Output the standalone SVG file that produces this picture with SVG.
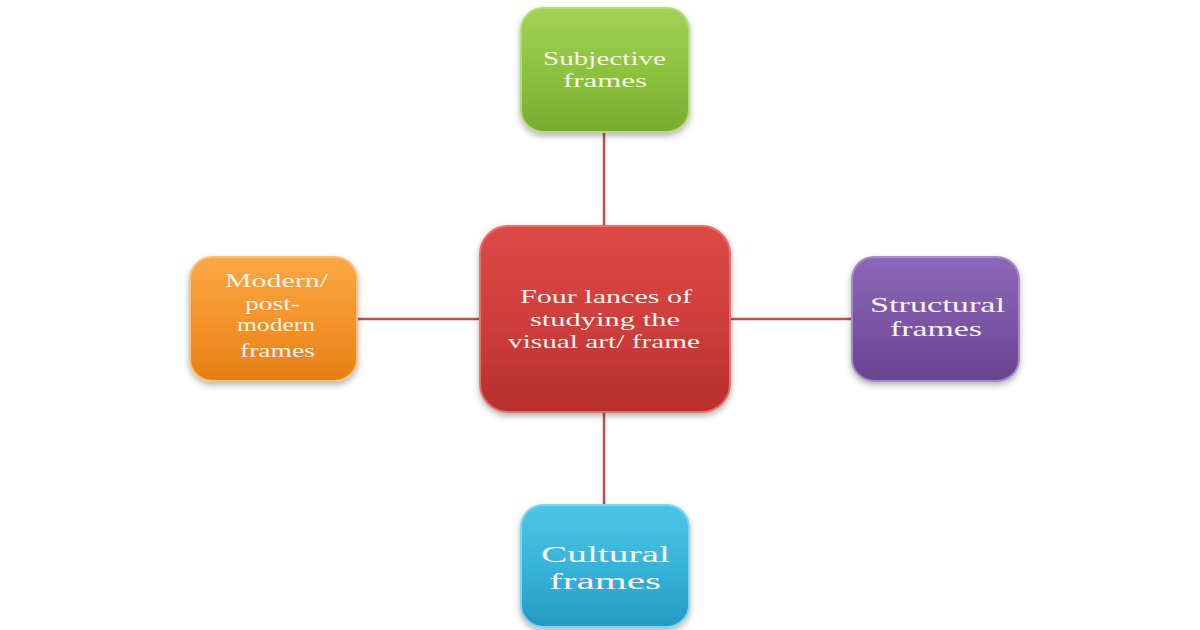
<svg xmlns="http://www.w3.org/2000/svg" width="1200" height="630" viewBox="0 0 1200 630">
<defs>
<linearGradient id="gG" x1="0" y1="0" x2="0" y2="1"><stop offset="0" stop-color="#a3d157"/><stop offset="0.5" stop-color="#8dc23f"/><stop offset="1" stop-color="#79ab2f"/></linearGradient>
<linearGradient id="gR" x1="0" y1="0" x2="0" y2="1"><stop offset="0" stop-color="#dc4a47"/><stop offset="0.5" stop-color="#cf3e3c"/><stop offset="1" stop-color="#b72f2e"/></linearGradient>
<linearGradient id="gO" x1="0" y1="0" x2="0" y2="1"><stop offset="0" stop-color="#f9a847"/><stop offset="0.5" stop-color="#f5942a"/><stop offset="1" stop-color="#e57f14"/></linearGradient>
<linearGradient id="gP" x1="0" y1="0" x2="0" y2="1"><stop offset="0" stop-color="#8c68b6"/><stop offset="0.5" stop-color="#7c56a5"/><stop offset="1" stop-color="#684491"/></linearGradient>
<linearGradient id="gC" x1="0" y1="0" x2="0" y2="1"><stop offset="0" stop-color="#4cc5e6"/><stop offset="0.5" stop-color="#38b4d9"/><stop offset="1" stop-color="#2599c3"/></linearGradient>
<filter id="sh" x="-10%" y="-10%" width="120%" height="130%"><feDropShadow dx="0" dy="3" stdDeviation="3" flood-color="#000" flood-opacity="0.3"/></filter>
</defs>
<style>
.box{filter:url(#sh);stroke-width:2}
.t{font-family:"Liberation Serif","Times New Roman",serif;fill:#f8f4ec;text-anchor:middle}
.c{stroke:#c0504d;stroke-width:2.5;fill:none}
</style>
<g id="connectors">
<line class="c" x1="604" y1="132" x2="604" y2="226"/>
<line class="c" x1="604" y1="412" x2="604" y2="505"/>
<line class="c" x1="357" y1="319" x2="480" y2="319"/>
<line class="c" x1="730" y1="319" x2="852" y2="319"/>
</g>
<g id="subjective">
<rect class="box" x="521" y="8" width="168" height="124" rx="22" fill="url(#gG)" stroke="#b4dc7a"/>
<text class="t" font-size="19.5" x="604.5" y="65" textLength="123" lengthAdjust="spacingAndGlyphs">Subjective</text>
<text class="t" font-size="19.5" x="605" y="87" textLength="84" lengthAdjust="spacingAndGlyphs">frames</text>
</g>
<g id="center">
<rect class="box" x="480" y="226" width="250" height="186" rx="28" fill="url(#gR)" stroke="#e8706c"/>
<text class="t" font-size="19.5" x="606" y="303" textLength="172" lengthAdjust="spacingAndGlyphs">Four lances of</text>
<text class="t" font-size="19.5" x="605" y="325.5" textLength="150" lengthAdjust="spacingAndGlyphs">studying the</text>
<text class="t" font-size="19.5" x="604" y="348" textLength="192" lengthAdjust="spacingAndGlyphs">visual art/ frame</text>
</g>
<g id="modern">
<rect class="box" x="190" y="257" width="167" height="124" rx="22" fill="url(#gO)" stroke="#fbc27a"/>
<text class="t" font-size="19" x="276.5" y="287" textLength="103" lengthAdjust="spacingAndGlyphs">Modern/</text>
<text class="t" font-size="18.5" x="272.5" y="310" textLength="55" lengthAdjust="spacingAndGlyphs">post-</text>
<text class="t" font-size="18.5" x="276" y="331" textLength="78" lengthAdjust="spacingAndGlyphs">modern</text>
<text class="t" font-size="19" x="277.5" y="357" textLength="75" lengthAdjust="spacingAndGlyphs">frames</text>
</g>
<g id="structural">
<rect class="box" x="852" y="257" width="167" height="124" rx="22" fill="url(#gP)" stroke="#a68bc8"/>
<text class="t" font-size="21.5" x="937.5" y="312" textLength="135" lengthAdjust="spacingAndGlyphs">Structural</text>
<text class="t" font-size="21.5" x="936" y="336" textLength="92" lengthAdjust="spacingAndGlyphs">frames</text>
</g>
<g id="cultural">
<rect class="box" x="521" y="505" width="168" height="122" rx="22" fill="url(#gC)" stroke="#7fd6ee"/>
<text class="t" font-size="24" x="605.5" y="562" textLength="129" lengthAdjust="spacingAndGlyphs">Cultural</text>
<text class="t" font-size="24" x="605" y="589" textLength="112" lengthAdjust="spacingAndGlyphs">frames</text>
</g>
</svg>
